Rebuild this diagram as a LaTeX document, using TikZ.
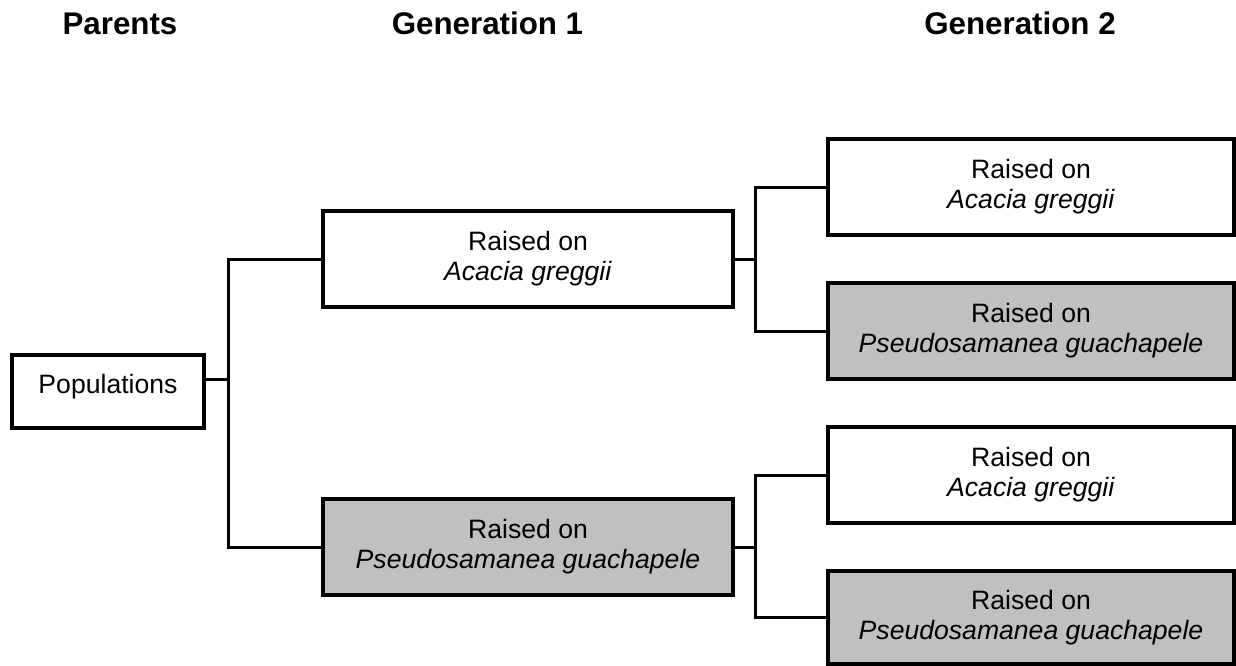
\documentclass[tikz,border=0pt]{standalone}
\usepackage{fontspec}
\setmainfont{Liberation Sans}
\definecolor{boxgray}{RGB}{192,192,192}
\begin{document}
\begin{tikzpicture}[x=1pt,y=-1pt,
  heading/.style={font=\fontsize{31.3}{36}\selectfont\bfseries, inner sep=0pt, anchor=base},
  genbox/.style={draw=black, line width=3.5pt, inner sep=0pt, align=center,
    font=\fontsize{26.6}{29.8}\selectfont},
  whitebox/.style={genbox, fill=white},
  graybox/.style={genbox, fill=boxgray},
  g1size/.style={minimum width=410pt, minimum height=96pt},
  g2size/.style={minimum width=406pt, minimum height=96pt},
  link/.style={line width=3pt, line join=miter}
]
\useasboundingbox (0,0) rectangle (1236,666);
\fill[white] (0,0) rectangle (1236,666);

% headings
\node[heading] (hp) at (120,35) {Parents};
\node[heading] (h1) at (487.5,35) {Generation 1};
\node[heading] (h2) at (1020,35) {Generation 2};

% junction points
\coordinate (j0) at (228,379);
\coordinate (j1) at (755,259);
\coordinate (j2) at (755,547);

% boxes
\node[whitebox, minimum width=192pt, minimum height=73pt, text depth=16pt] (pop) at (108,391.5) {Populations};
\node[whitebox, g1size] (g1a) at (528,259) {Raised on\\\textit{Acacia greggii}};
\node[graybox, g1size] (g1b) at (528,547) {Raised on\\\textit{Pseudosamanea guachapele}};
\node[whitebox, g2size] (g2a) at (1031,187) {Raised on\\\textit{Acacia greggii}};
\node[graybox, g2size] (g2b) at (1031,331) {Raised on\\\textit{Pseudosamanea guachapele}};
\node[whitebox, g2size] (g2c) at (1031,475) {Raised on\\\textit{Acacia greggii}};
\node[graybox, minimum width=406pt, minimum height=93pt] (g2d) at (1031,617.5) {Raised on\\\textit{Pseudosamanea guachapele}};

% connectors
\draw[link] (pop.east |- j0) -- (j0);
\draw[link] (g1a.west) -| (j0) |- (g1b.west);
\draw[link] (g1a.east) -- (j1);
\draw[link] (g2a.west) -| (j1) |- (g2b.west);
\draw[link] (g1b.east) -- (j2);
\draw[link] (g2c.west) -| (j2) |- (g2d.west);
\end{tikzpicture}
\end{document}
